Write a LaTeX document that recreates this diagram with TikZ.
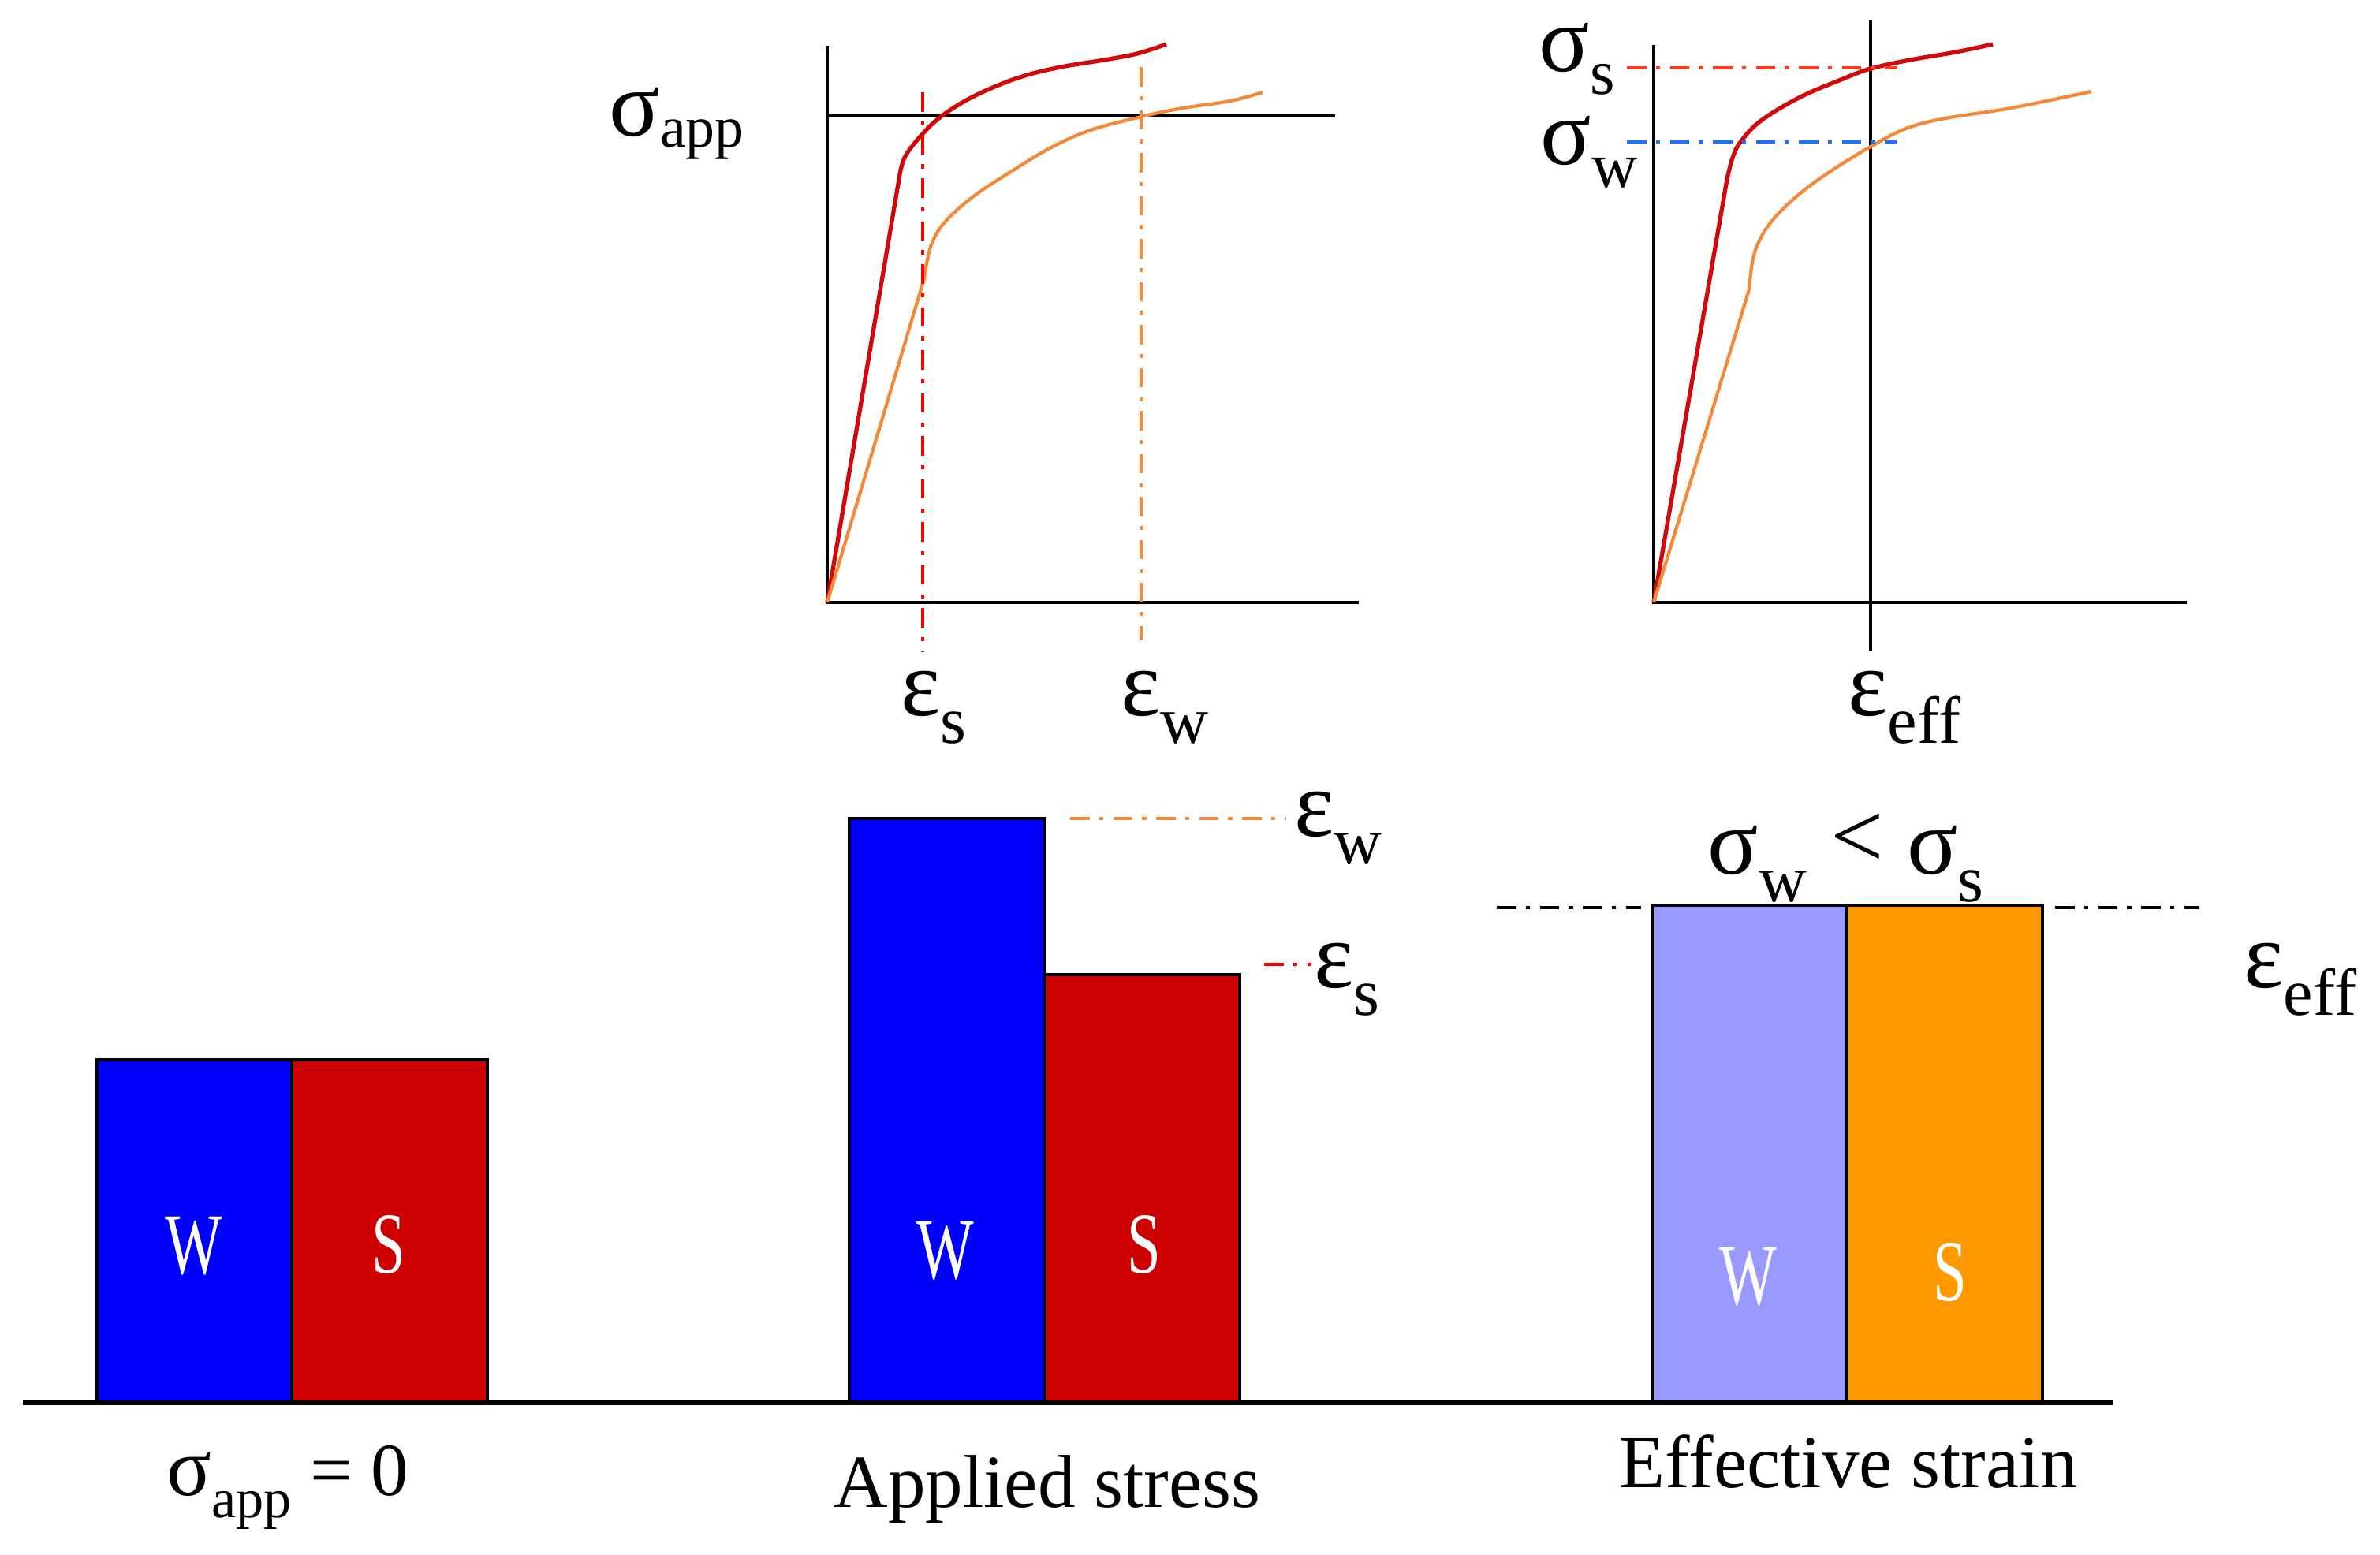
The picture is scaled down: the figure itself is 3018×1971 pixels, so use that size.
\documentclass[tikz,border=0pt]{standalone}
\usepackage{fontspec}
\setmainfont{Liberation Serif}
\usetikzlibrary{positioning}

\definecolor{wblue}{HTML}{0000FF}
\definecolor{sred}{HTML}{CC0000}
\definecolor{wlight}{HTML}{9999FF}
\definecolor{sorange}{HTML}{FF9900}
\definecolor{curvered}{HTML}{D00A0A}
\definecolor{curveorange}{HTML}{F5893A}
\definecolor{dashred}{HTML}{FF3B1F}
\definecolor{dashblue}{HTML}{1A73FF}

\newcommand{\gsym}[2]{#1\raisebox{-0.3em}{\fontsize{24}{24}\selectfont #2}}
\newcommand{\narrow}[1]{\scalebox{0.78}[1.12]{#1}}

\begin{document}
\begin{tikzpicture}[x=0.01cm, y=-0.01cm,
    axis/.style = {line width=1.2pt},
    bar/.style = {draw=black, line width=1.2pt},
    dashdot/.style = {line width=1.3pt, dash pattern=on 7pt off 3.5pt on 1.5pt off 3.5pt},
    sym/.style = {anchor=base west, inner sep=0pt, font=\fontsize{34}{36}\selectfont},
    caption/.style = {anchor=base, inner sep=0pt, font=\fontsize{27}{30}\selectfont},
    mat/.style = {text=white, inner sep=0pt, font=\fontsize{28}{30}\selectfont}]
    \useasboundingbox (0,0) rectangle (3018,1971);

    % Chart 1: applied stress
    \coordinate (O1) at (1049,764);
    \coordinate (Y1) at (1049,58);
    \coordinate (X1) at (1723,764);
    \coordinate (A1) at (1693,147);
    \coordinate (A0) at (1049,147);
    \draw[axis] (Y1) -- (O1) -- (X1);
    \draw[axis] (A0) -- (A1);
    \draw[curvered, line width=1.5pt, line join=round] (O1) -- (1140,227)
        -- plot[smooth, tension=0.6] coordinates {(1140,227) (1147,200) (1167,173) (1193,148) (1233,123) (1287,100) (1340,86) (1400,76) (1442,68) (1479,56)};
    \draw[curveorange, line width=1.2pt, line join=round] (O1) -- (1172,353)
        -- plot[smooth, tension=0.6] coordinates {(1172,353) (1180,313) (1197,283) (1233,250) (1283,217) (1333,187) (1383,165) (1447,148) (1500,137) (1560,128) (1601,117)};
    \coordinate (ES1) at (1170,117);
    \coordinate (ES2) at (1170,827);
    \coordinate (EW1) at (1447,85);
    \coordinate (EW2) at (1447,812);
    \draw[dashdot, red] (ES1) -- (ES2);
    \draw[dashdot, curveorange] (EW1) -- (EW2);
    \node[sym] (sapp) at (772,172) {σ\raisebox{-0.12em}{\fontsize{21}{21}\selectfont app}};
    \node[sym] (es) at (1142,907) {\gsym{ε}{s}};
    \node[sym] (ew) at (1421,907) {\gsym{ε}{w}};

    % Chart 2: effective strain
    \coordinate (O2) at (2097,764);
    \coordinate (Y2) at (2097,57);
    \coordinate (X2) at (2773,764);
    \coordinate (V1) at (2372,25);
    \coordinate (V2) at (2372,825);
    \draw[axis] (Y2) -- (O2) -- (X2);
    \draw[axis] (V1) -- (V2);
    \draw[curvered, line width=1.5pt, line join=round] (O2) -- (2190,227)
        -- plot[smooth, tension=0.6] coordinates {(2190,227) (2197,200) (2207,180) (2233,153) (2283,123) (2337,100) (2372,87) (2422,76) (2480,66) (2527,56)};
    \draw[curveorange, line width=1.2pt, line join=round] (O2) -- (2218,367)
        -- plot[smooth, tension=0.6] coordinates {(2218,367) (2222,333) (2230,307) (2247,280) (2277,250) (2317,220) (2372,186) (2417,163) (2467,150) (2550,137) (2652,116)};
    \coordinate (SS1) at (2063,86);
    \coordinate (SS2) at (2405,86);
    \coordinate (SW1) at (2063,180);
    \coordinate (SW2) at (2405,180);
    \draw[dashdot, dashred] (SS1) -- (SS2);
    \draw[dashdot, dashblue] (SW1) -- (SW2);
    \node[sym] (ss) at (1951,90) {σ\raisebox{-0.25em}{\fontsize{23}{23}\selectfont s}};
    \node[sym] (sw) at (1953,208) {σ\raisebox{-0.25em}{\fontsize{23}{23}\selectfont w}};
    \node[sym] (eeff) at (2343,907) {\gsym{ε}{eff}};

    % Bars
    \draw[bar, fill=wblue] (123,1344) rectangle (370,1779);
    \draw[bar, fill=sred] (370,1344) rectangle (618,1779);
    \draw[bar, fill=wblue] (1077,1038) rectangle (1325,1779);
    \draw[bar, fill=sred] (1325,1236) rectangle (1572,1779);
    \draw[bar, fill=wlight] (2096,1148) rectangle (2342,1779);
    \draw[bar, fill=sorange] (2342,1148) rectangle (2590,1779);
    \node[mat] (w1) at (246,1580) {\narrow{W}};
    \node[mat] (s1) at (493,1578) {\narrow{S}};
    \node[mat] (w2) at (1199,1586) {\narrow{W}};
    \node[mat] (s2) at (1451,1578) {\narrow{S}};
    \node[mat] (w3) at (2217,1619) {\narrow{W}};
    \node[mat] (s3) at (2473,1613) {\narrow{S}};

    % Ground
    \coordinate (G1) at (29,1779);
    \coordinate (G2) at (2680,1779);
    \draw[line width=1.8pt] (G1) -- (G2);

    % Strain marks
    \coordinate (BW1) at (1357,1038);
    \coordinate (BW2) at (1631,1038);
    \coordinate (BS1) at (1603,1223);
    \coordinate (BS2) at (1663,1223);
    \coordinate (BE1) at (1898,1151);
    \coordinate (BE2) at (2081,1151);
    \coordinate (BE3) at (2606,1151);
    \coordinate (BE4) at (2789,1151);
    \draw[dashdot, curveorange] (BW1) -- (BW2);
    \draw[dashdot, red] (BS1) -- (BS2);
    \draw[dashdot, black] (BE1) -- (BE2);
    \draw[dashdot, black] (BE3) -- (BE4);
    \node[sym] (bew) at (1641,1060) {\gsym{ε}{w}};
    \node[sym] (bes) at (1666,1252) {\gsym{ε}{s}};
    \node[sym] (cmp) at (2165,1108) {\gsym{σ}{w} \raisebox{2pt}{<} \gsym{σ}{s}};
    \node[sym] (beeff) at (2845,1252) {\gsym{ε}{eff}};

    % Captions
    \node[caption] (c1) at (365,1896) {{\fontsize{30}{30}\selectfont σ}\raisebox{-0.3em}{\fontsize{20}{20}\selectfont app} = 0};
    \node[caption] (c2) at (1328,1911) {Applied stress};
    \node[caption] (c3) at (2344,1886) {Effective strain};
\end{tikzpicture}
\end{document}
